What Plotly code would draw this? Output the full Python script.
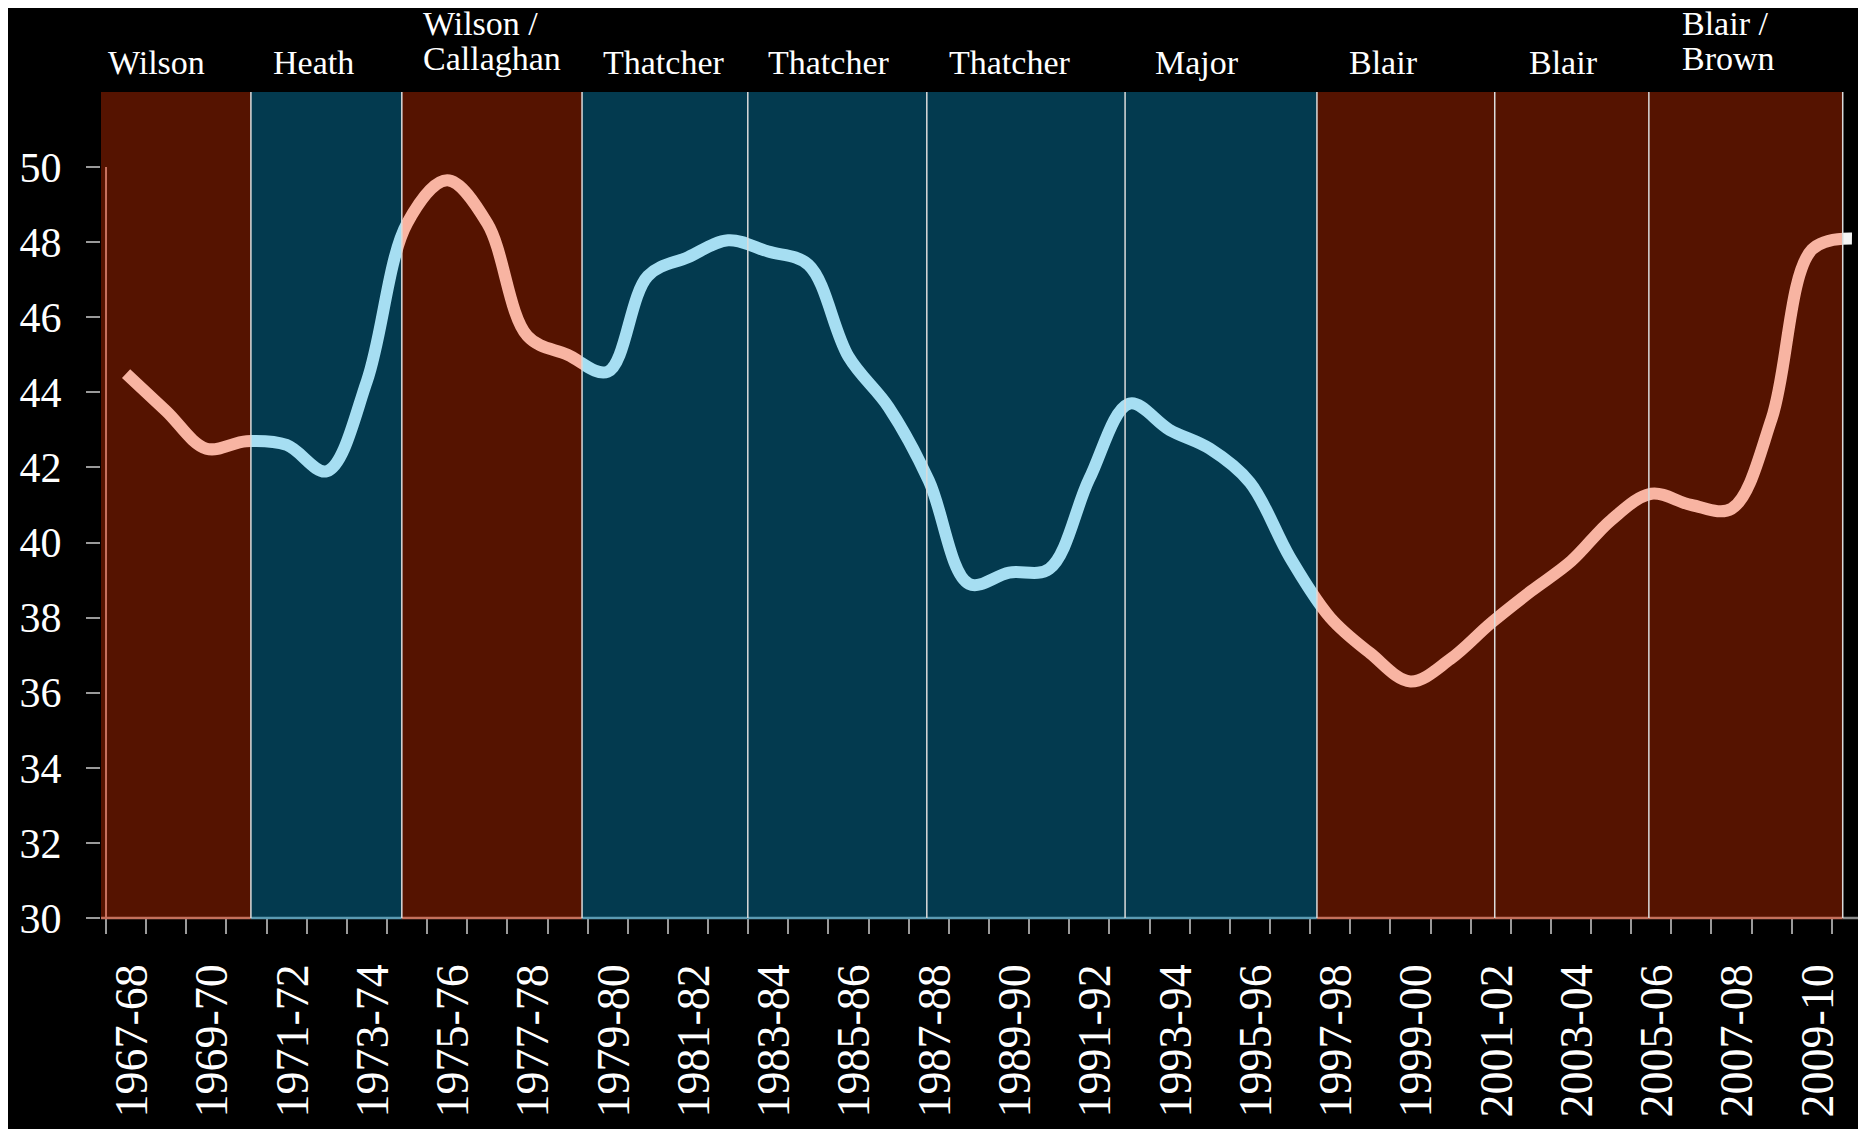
import plotly.graph_objects as go

# ---------------- data ----------------
fiscal_years = [
    "1967-68", "1968-69", "1969-70", "1970-71", "1971-72", "1972-73", "1973-74", "1974-75",
    "1975-76", "1976-77", "1977-78", "1978-79", "1979-80", "1980-81", "1981-82", "1982-83",
    "1983-84", "1984-85", "1985-86", "1986-87", "1987-88", "1988-89", "1989-90", "1990-91",
    "1991-92", "1992-93", "1993-94", "1994-95", "1995-96", "1996-97", "1997-98", "1998-99",
    "1999-00", "2000-01", "2001-02", "2002-03", "2003-04", "2004-05", "2005-06", "2006-07",
    "2007-08", "2008-09", "2009-10", "2010-11",
]
spending_pct = [
    44.5, 43.5, 42.5, 42.7, 42.6, 41.9, 44.3, 48.5,
    49.65, 48.5, 45.5, 45.0, 44.55, 47.1, 47.6, 48.05,
    47.75, 47.4, 44.95, 43.6, 41.65, 38.9, 39.2, 39.3,
    41.7, 43.7, 43.0, 42.5, 41.6, 39.6, 38.0, 37.05,
    36.3, 36.9, 37.85, 38.7, 39.5, 40.6, 41.3, 41.0,
    40.9, 43.3, 47.8, 48.1,
]
governments = [["Wilson"], ["Heath"], ["Wilson /", "Callaghan"], ["Thatcher"], ["Thatcher"],
               ["Thatcher"], ["Major"], ["Blair"], ["Blair"], ["Blair /", "Brown"]]
gov_party = ["Labour", "Conservative", "Labour", "Conservative", "Conservative",
             "Conservative", "Conservative", "Labour", "Labour", "Labour"]
gov_start = [1966.875, 1970.61, 1974.37, 1978.86, 1982.99,
             1987.45, 1992.39, 1997.17, 2001.60, 2005.44]
gov_last_end = 2010.27
y_ticks = [30, 32, 34, 36, 38, 40, 42, 44, 46, 48, 50]

# ---------------- layout constants ----------------
X_MIN, X_MAX = 1966.875, 2010.85
Y_MIN, Y_MAX = 30, 52
FONT = "Liberation Serif"
band_fill = {"Labour": "#551300", "Conservative": "#033a4f"}
line_col = {"Labour": "#f8b4a2", "Conservative": "#a6def2"}
axis_col = {"Labour": "#c4705c", "Conservative": "#5b9ab2"}
# label anchor x: centre for one-line labels, left edge for two-line labels
label_x = [1968.25, 1972.18, 1974.88, 1980.90, 1985.01,
           1989.50, 1994.18, 1998.84, 2003.32, 2006.25]

x_vals = [int(fy[:4]) + 0.5 for fy in fiscal_years]
year_ticks = [int(fy[:4]) for fy in fiscal_years]
gov_end = gov_start[1:] + [gov_last_end]

fig = go.Figure()

# line segments: one per government band + trailing white piece, each on its own clipped x-axis
segments = [(a, b, line_col[p]) for a, b, p in zip(gov_start, gov_end, gov_party)]
segments.append((gov_last_end, X_MAX, "#f5f5f5"))

span = X_MAX - X_MIN
for i, (a, b, col) in enumerate(segments):
    n = i + 2
    fig.add_trace(go.Scatter(
        x=x_vals, y=spending_pct, mode="lines",
        line=dict(color=col, width=12, shape="spline", smoothing=1.0),
        xaxis=f"x{n}", yaxis="y", hoverinfo="skip", showlegend=False,
    ))
    fig.update_layout(**{f"xaxis{n}": dict(
        domain=[(a - X_MIN) / span, (b - X_MIN) / span],
        range=[a, b], visible=False, anchor="y", fixedrange=True,
    )})

# bands and coloured base line
for a, b, p in zip(gov_start, gov_end, gov_party):
    fig.add_shape(type="rect", xref="x", yref="y", x0=a, x1=b, y0=Y_MIN, y1=Y_MAX,
                  fillcolor=band_fill[p], line=dict(width=0), layer="below")
    fig.add_shape(type="line", xref="x", yref="paper", x0=a, x1=b, y0=0, y1=0,
                  line=dict(color=axis_col[p], width=2.5), layer="above")
fig.add_shape(type="line", xref="x", yref="paper", x0=gov_last_end, x1=X_MAX, y0=0, y1=0,
              line=dict(color="#8a8a8a", width=2.5), layer="above")

# dividers
for b in gov_start[1:] + [gov_last_end]:
    fig.add_shape(type="line", xref="x", yref="y", x0=b, x1=b, y0=Y_MIN, y1=Y_MAX,
                  line=dict(color="#dcdcdc", width=1.5), layer="above")

# y axis line (30 to 50)
fig.add_shape(type="line", xref="x", yref="y", x0=year_ticks[0], x1=year_ticks[0],
              y0=y_ticks[0], y1=y_ticks[-1], line=dict(color="#c8735f", width=2), layer="above")

# government labels
for lines, lx in zip(governments, label_x):
    if len(lines) == 1:
        fig.add_annotation(x=lx, xref="x", y=1, yref="paper", xanchor="center",
                           yanchor="middle", yshift=30, text=lines[0], showarrow=False,
                           font=dict(family=FONT, size=34, color="white"))
    else:
        for txt, ys in zip(lines, [69, 34]):
            fig.add_annotation(x=lx, xref="x", y=1, yref="paper", xanchor="left",
                               yanchor="middle", yshift=ys, text=txt, showarrow=False,
                               borderpad=0,
                               font=dict(family=FONT, size=34, color="white"))

# the page body adds an 8px offset, so the figure is 8px smaller and margins shifted
fig.update_layout(
    width=1858, height=1121,
    margin=dict(l=93, r=0, t=84, b=211, autoexpand=False),
    paper_bgcolor="black", plot_bgcolor="rgba(0,0,0,0)",
    showlegend=False,
    xaxis=dict(
        range=[X_MIN, X_MAX], showgrid=False, zeroline=False, showline=False,
        automargin=False,
        tickmode="array", tickvals=x_vals[0:43:2], ticktext=fiscal_years[0:43:2],
        ticks="", tickangle=-90, ticklabelstandoff=36, ticklabelshift=6,
        tickfont=dict(family=FONT, size=46, color="white"),
        minor=dict(tickmode="array", tickvals=year_ticks, ticks="outside", ticklen=15,
                   tickcolor="#9a9a9a", tickwidth=1.5, showgrid=False),
        fixedrange=True,
    ),
    yaxis=dict(
        range=[Y_MIN, Y_MAX], showgrid=False, zeroline=False, showline=False,
        automargin=False,
        tickmode="array", tickvals=y_ticks, ticks="outside", ticklen=14,
        tickcolor="#9a9a9a", tickwidth=1.5, ticklabelstandoff=16,
        tickfont=dict(family=FONT, size=42, color="white"), anchor="x",
        fixedrange=True,
    ),
)

fig.write_html("out.html")
